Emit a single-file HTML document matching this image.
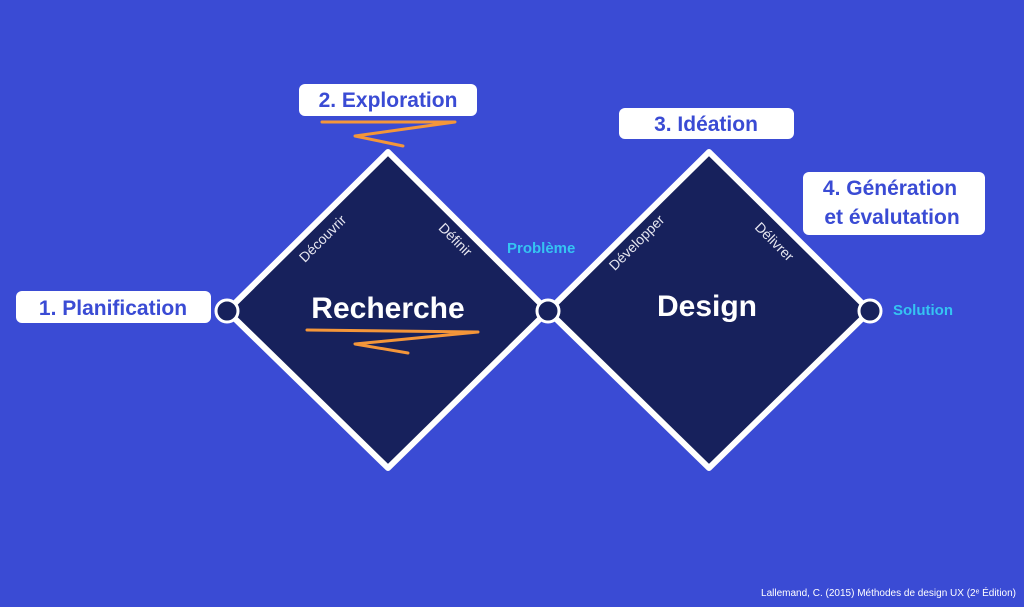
<!DOCTYPE html>
<html><head><meta charset="utf-8"><style>
html,body{margin:0;padding:0;background:#3a4bd4;}
svg{display:block;font-family:"Liberation Sans",sans-serif;}
</style></head><body>
<svg width="1024" height="607" viewBox="0 0 1024 607">
<rect width="1024" height="607" fill="#3a4bd4"/>
<g fill="#17215c" stroke="#fff" stroke-width="6" stroke-linejoin="round">
<polygon points="227,311 388,152 548,311 388,468"/>
<polygon points="548,311 709,152 870,311 709,468"/>
</g>
<g fill="#17215c" stroke="#fff" stroke-width="3">
<circle cx="227" cy="311" r="11"/><circle cx="548" cy="311" r="11"/><circle cx="870" cy="311" r="11"/>
</g>
<g fill="#fff">
<rect x="16" y="291" width="195" height="32" rx="6"/>
<rect x="299" y="84" width="178" height="32" rx="6"/>
<rect x="619" y="108" width="175" height="31" rx="6"/>
<rect x="803" y="172" width="182" height="63" rx="6"/>
</g>
<g fill="#3a4bd4" font-weight="bold" font-size="21" text-anchor="middle">
<text x="113" y="315">1. Planification</text>
<text x="388" y="107">2. Exploration</text>
<text x="706" y="131">3. Idéation</text>
<text x="890" y="195">4. Génération</text>
<text x="892" y="224">et évalutation</text>
</g>
<g fill="#35c4f2" font-weight="bold" font-size="15">
<text x="507" y="253">Problème</text>
<text x="893" y="315">Solution</text>
</g>
<g fill="#fff" font-weight="bold" font-size="30" text-anchor="middle">
<text x="388" y="318">Recherche</text>
<text x="707" y="316">Design</text>
</g>
<g fill="#e6e6f0" font-size="14" text-anchor="middle">
<text transform="translate(326,242) rotate(-45)">Découvrir</text>
<text transform="translate(452,243) rotate(45)">Définir</text>
<text transform="translate(640,246) rotate(-45)">Développer</text>
<text transform="translate(771,245) rotate(45)">Délivrer</text>
</g>
<g fill="none" stroke="#f4963a" stroke-width="3" stroke-linecap="round" stroke-linejoin="round">
<polyline points="322,122 455,122 355,136 403,146"/>
<polyline points="307,330 478,332 355,344 408,353"/>
</g>
<text x="1016" y="596" fill="#fff" font-size="10" text-anchor="end">Lallemand, C. (2015) Méthodes de design UX (2ᵉ Édition)</text>
</svg>
</body></html>
